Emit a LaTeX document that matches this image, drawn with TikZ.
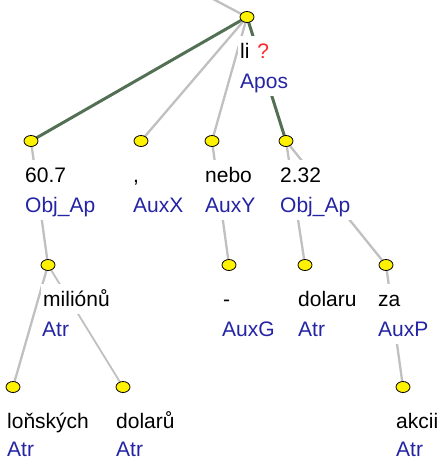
\documentclass[tikz,border=0pt]{standalone}
\usepackage{fontspec}
\setmainfont{Liberation Sans}
\usetikzlibrary{shapes.geometric}
\definecolor{fnblue}{RGB}{36,36,165}
\definecolor{edgegrey}{RGB}{192,192,192}
\definecolor{edgegreen}{RGB}{84,112,84}
\definecolor{qred}{RGB}{255,40,40}
\pgfdeclarelayer{bg}
\pgfsetlayers{bg,main}
\tikzset{
  dot/.style={ellipse, draw=black, fill=yellow, minimum width=14pt, minimum height=11pt, inner sep=0pt, line width=0.8pt},
  lab/.style={anchor=base west, fill=white, inner xsep=2pt, inner ysep=0pt, text height=22pt, text depth=8pt, font=\fontsize{21}{25}\selectfont, text=black},
  fn/.style={lab, text=fnblue},
  lastfn/.style={fn, text depth=1pt},
  gedge/.style={draw=edgegrey, line width=2.3pt},
  dedge/.style={draw=edgegreen, line width=3pt},
}
\begin{document}
\begin{tikzpicture}[x=1pt,y=-1pt]
\useasboundingbox (0,0) rectangle (440,459);
% dots
\node[dot] (R) at (247,17) {};
\node[dot] (a) at (31,141) {};
\node[dot] (b) at (141,141) {};
\node[dot] (c) at (212,141) {};
\node[dot] (d) at (286,141) {};
\node[dot] (e) at (48,265) {};
\node[dot] (f) at (229,265) {};
\node[dot] (g) at (305,265) {};
\node[dot] (h) at (386,265) {};
\node[dot] (i) at (13,387) {};
\node[dot] (j) at (123,387) {};
\node[dot] (k) at (403,387) {};
\coordinate (top) at (213,-1);
% labels
\node[lab] (Rw) at (238,58) {li \hspace{2pt}\textcolor{qred}{?}};
\node[fn]  (Rf) at (238,88) {Apos};
\node[lab] (aw) at (23,182) {60.7};
\node[fn]  (af) at (23,212) {Obj\_Ap};
\node[lab] (bw) at (131,182) {,};
\node[fn]  (bf) at (131,212) {AuxX};
\node[lab] (cw) at (203,182) {nebo};
\node[fn]  (cf) at (203,212) {AuxY};
\node[lab] (dw) at (278,182) {2.32\kern10pt\relax};
\node[fn]  (df) at (278,212) {Obj\_Ap};
\node[lab] (ew) at (41,306) {miliónů};
\node[fn]  (ef) at (40,336) {Atr};
\node[lab] (fw) at (221,306) {-};
\node[fn]  (ff) at (220,336) {AuxG};
\node[lab] (gw) at (296,306) {dolaru};
\node[fn]  (gf) at (296,336) {Atr};
\node[lab] (hw) at (376,306) {za};
\node[fn]  (hf) at (376,336) {AuxP};
\node[lab] (iw) at (5,428) {loňských};
\node[lastfn] (if) at (5,456) {Atr};
\node[lab] (jw) at (114,428) {dolarů};
\node[lastfn] (jf) at (114,456) {Atr};
\node[lab] (kw) at (394,428) {akcii};
\node[lastfn] (kf) at (394,456) {Atr};
% edges
\begin{pgfonlayer}{bg}
\draw[gedge] (top) -- (R.center);
\draw[dedge] (R.center) -- (a.center);
\draw[gedge] (R.center) -- (b.center);
\draw[gedge] (R.center) -- (c.center);
\draw[dedge] (R.center) -- (d.center);
\draw[gedge] (a.center) -- (e.center);
\draw[gedge] (c.center) -- (f.center);
\draw[gedge] (d.center) -- (g.center);
\draw[gedge] (d.center) -- (h.center);
\draw[gedge] (e.center) -- (i.center);
\draw[gedge, line width=1.8pt] (e.center) -- (j.center);
\draw[gedge] (h.center) -- (k.center);
\end{pgfonlayer}
\end{tikzpicture}
\end{document}
